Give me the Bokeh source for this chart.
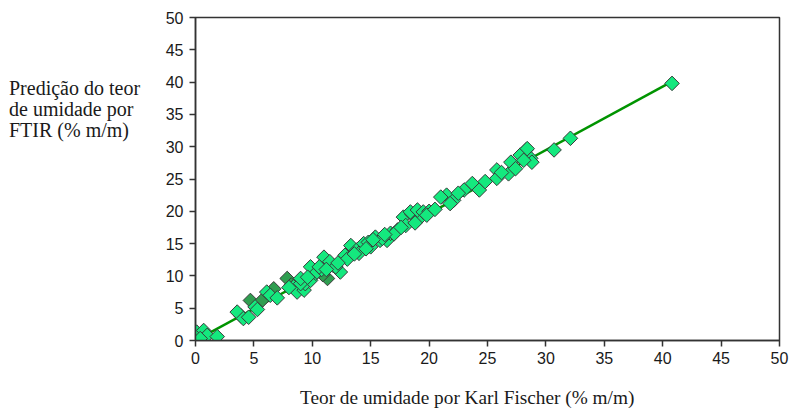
import math
from bokeh.plotting import figure
from bokeh.models import Range1d, FixedTicker, Div
from bokeh.layouts import row, column
from bokeh.embed import file_html
from bokeh.resources import INLINE

# Karl Fischer reference (x) vs FTIR prediction (y), % m/m
kf_light = [0.1, 0.7, 1.0, 1.86, 0.4, 3.57, 4.1, 5.1, 4.55, 6.1, 6.4, 8.4, 8.7, 9.3, 9.4,
            9.85, 10.3, 9.0, 11.0, 11.8, 12.4, 12.8, 13.3, 13.8, 14.4, 15.0, 15.4, 15.8,
            16.4, 16.7, 17.3, 17.8, 18.5, 19.0, 9.85, 10.4, 9.0, 18.4, 19.0, 19.5, 21.5,
            22.1, 23.0, 23.7, 24.3, 25.8, 25.8, 26.8, 27.0, 28.3, 28.7, 27.8, 21.0, 28.4,
            28.8, 28.1, 30.7, 32.1, 40.8, 10.8, 11.5, 12.0, 13.0, 14.0, 14.8, 16.0, 17.0,
            18.0, 20.0, 22.5, 24.8, 5.3, 7.0, 12.2, 13.6, 14.6, 15.2, 16.2, 17.6, 18.8,
            19.8, 20.5, 8.0, 9.6, 10.6, 11.2, 26.2, 27.4, 21.8]
ftir_light = [1.3, 1.55, 0.8, 0.6, 0.3, 4.4, 3.4, 5.2, 3.6, 7.5, 7.0, 8.3, 7.5, 7.8, 8.8,
              9.3, 10.4, 8.8, 12.9, 11.6, 10.6, 13.2, 14.7, 14.0, 15.0, 14.5, 16.0, 15.5,
              15.5, 16.6, 17.1, 19.1, 19.6, 18.6, 11.4, 10.6, 9.6, 19.9, 20.2, 19.9, 22.5,
              21.7, 23.3, 24.3, 23.3, 26.4, 25.1, 25.8, 27.6, 29.5, 28.2, 28.7, 22.2, 29.7,
              27.6, 27.9, 29.5, 31.3, 39.8, 11.0, 12.2, 11.4, 12.6, 13.5, 15.2, 15.8, 16.5,
              17.8, 20.0, 22.8, 24.6, 4.8, 6.6, 12.0, 13.4, 14.2, 15.6, 16.4, 17.5, 18.2,
              19.4, 20.3, 8.2, 9.8, 11.4, 11.0, 26.0, 26.6, 21.2]
kf_dark = [4.7, 5.7, 7.85, 11.3, 6.7, 8.2, 3.9, 10.9]
ftir_dark = [6.2, 6.2, 9.6, 9.6, 8.0, 8.6, 3.8, 10.2]

fit_x = [0.0, 40.7]
fit_y = [0.0, 40.0]

x_ticks = [0, 5, 10, 15, 20, 25, 30, 35, 40, 45, 50]
y_ticks = [0, 5, 10, 15, 20, 25, 30, 35, 40, 45, 50]

x_title = "Teor de umidade por Karl Fischer (% m/m)"
y_title = ["Predição do teor", "de umidade por", "FTIR (% m/m)"]

p = figure(width=631, height=375, output_backend="svg", toolbar_location=None,
           x_range=Range1d(0, 50), y_range=Range1d(0, 50),
           min_border_left=30, min_border_right=14, min_border_top=17,
           min_border_bottom=35, margin=0)
p.background_fill_color = "white"
p.border_fill_color = "white"
p.outline_line_color = "#333333"
p.outline_line_width = 1.5
p.grid.visible = False

p.line(fit_x, fit_y, line_color="#009400", line_width=2.5)
p.scatter(kf_dark, ftir_dark, marker="square", angle=math.pi / 4, size=10.3,
          fill_color="#2f9e50", line_color="#3a3a3a", line_width=1)
p.scatter(kf_light, ftir_light, marker="square", angle=math.pi / 4, size=10.3,
          fill_color="#14e87e", line_color="#3a3a3a", line_width=1)

for ax in (p.xaxis, p.yaxis):
    ax.axis_line_color = "#333333"
    ax.axis_line_width = 1.5
    ax.major_tick_line_color = "#333333"
    ax.major_tick_line_width = 1.5
    ax.major_tick_in = 0
    ax.major_tick_out = 6
    ax.minor_tick_line_color = None
    ax.major_label_text_font = "Liberation Sans"
    ax.major_label_text_font_size = "16px"
    ax.major_label_text_color = "#1a1a1a"

p.xaxis.ticker = FixedTicker(ticks=x_ticks)
p.yaxis.ticker = FixedTicker(ticks=y_ticks)
p.xaxis.major_label_standoff = 5
p.yaxis.major_label_standoff = 6

font_css = "font-family:'Liberation Serif';color:#1a1a1a;white-space:nowrap;"
div_y = Div(text="<div style=\"" + font_css + "font-size:20px;line-height:21px;"
            "padding:78px 0 0 9px;\">" + "<br>".join(y_title) + "</div>",
            width=162, height=408, margin=0)
div_x = Div(text="<div style=\"" + font_css + "font-size:19.3px;line-height:20px;"
            "padding:13px 0 0 138px;\">" + x_title + "</div>",
            width=631, height=33, margin=0)

layout = row(div_y, column(p, div_x, spacing=0), spacing=0)

open("out.html", "w").write(file_html(layout, INLINE))
